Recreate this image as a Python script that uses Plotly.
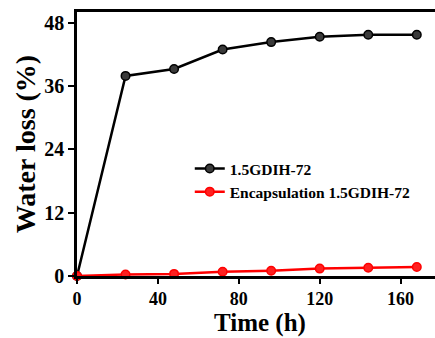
import plotly.graph_objects as go

time_h = [0, 24, 48, 72, 96, 120, 144, 168]
loss_gdih = [0, 37.9, 39.2, 42.9, 44.3, 45.3, 45.7, 45.7]
loss_encap = [0, 0.3, 0.4, 0.8, 1.0, 1.4, 1.55, 1.7]
names = ["1.5GDIH-72", "Encapsulation 1.5GDIH-72"]
x_ticks = [0, 40, 80, 120, 160]
y_ticks = [0, 12, 24, 36, 48]
x_title = "Time (h)"
y_title = "Water loss (%)"

FONT = "Liberation Serif"
B = 62
PLOT_H = 338 - 12 - B

fig = go.Figure()
fig.add_trace(go.Scatter(
    x=time_h, y=loss_gdih, name=names[0], mode="lines+markers",
    line=dict(color="black", width=2.5),
    marker=dict(size=8.5, color="#3a3a3a", line=dict(color="black", width=1.5)),
    cliponaxis=False,
))
fig.add_trace(go.Scatter(
    x=time_h, y=loss_encap, name=names[1], mode="lines+markers",
    line=dict(color="#ff0000", width=2.5),
    marker=dict(size=8.5, color="#ff2020", line=dict(color="#ff0000", width=1.5)),
    cliponaxis=False,
))

fig.add_annotation(
    text=x_title, xref="paper", yref="paper", x=0.51, y=-B / PLOT_H,
    xanchor="center", yanchor="bottom", showarrow=False, borderpad=0,
    font=dict(family=FONT, size=25, weight="bold", color="black"),
)

fig.update_layout(
    width=435, height=338,
    margin=dict(l=77, r=0, t=12, b=B),
    paper_bgcolor="white", plot_bgcolor="white",
    font=dict(family=FONT, color="black", size=19, weight="bold"),
    showlegend=True,
    legend=dict(
        x=0.315, y=0.47, xanchor="left", yanchor="top",
        font=dict(family=FONT, size=15.5, color="black", weight="bold"),
        bgcolor="rgba(0,0,0,0)", itemwidth=30, tracegroupgap=0,
    ),
    xaxis=dict(
        range=[0, 177], tickvals=x_ticks, ticks="outside", ticklen=5, tickwidth=2,
        tickcolor="black", showline=True, linecolor="black", linewidth=2.5,
        mirror=True, showgrid=False, zeroline=False,
        tickfont=dict(family=FONT, size=18, weight="bold"),
    ),
    yaxis=dict(
        range=[0, 50], tickvals=y_ticks, ticks="outside", ticklen=6, tickwidth=2,
        tickcolor="black", showline=True, linecolor="black", linewidth=2.5,
        mirror=False, showgrid=False, zeroline=False,
        tickfont=dict(family=FONT, size=20, weight="bold"),
        title=dict(text=y_title, font=dict(family=FONT, size=28, weight="bold"), standoff=1),
    ),
)

fig.write_html("out.html")
